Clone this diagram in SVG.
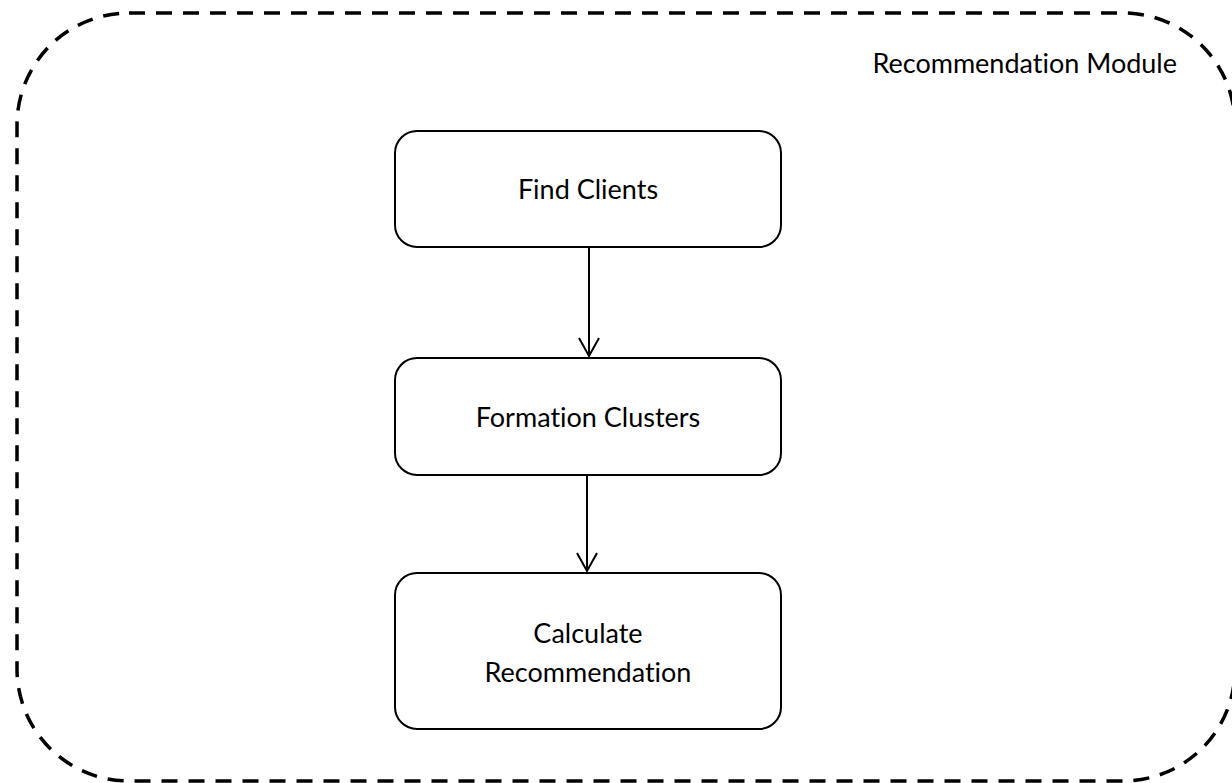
<svg xmlns="http://www.w3.org/2000/svg" width="1232" height="783" viewBox="0 0 1232 783">
  <defs>
    <style>
      .frame { fill: none; stroke: #000; stroke-width: 3.5; stroke-dasharray: 16 11; }
      .node rect { fill: #fff; stroke: #000; stroke-width: 2; }
      .label { font-family: Lato, "Open Sans", sans-serif; font-size: 27px; fill: #000; font-variant-ligatures: none; font-feature-settings: "liga" 0, "clig" 0; }
      .node text { text-anchor: middle; }
      .edge { fill: none; stroke: #000; stroke-width: 2; }
    </style>
    <!-- open V arrowhead, tip at the path end -->
    <marker id="arrow" markerWidth="24" markerHeight="24" viewBox="-20 -12 24 24" refX="0" refY="0" markerUnits="userSpaceOnUse" orient="auto">
      <path d="M -18 -10 L 0 0 L -18 10" fill="none" stroke="#000" stroke-width="2"/>
    </marker>
  </defs>

  <rect width="1232" height="783" fill="#fff"/>

  <!-- module boundary -->
  <g id="module">
    <rect class="frame" x="17" y="13" width="1218" height="768" rx="112" ry="112"/>
    <text class="label" x="1177" y="73" text-anchor="end">Recommendation Module</text>
  </g>

  <!-- process steps -->
  <g id="find-clients" class="node">
    <rect x="395" y="131" width="386" height="116" rx="22" ry="22"/>
    <text class="label" x="588" y="199">Find Clients</text>
  </g>

  <g id="formation-clusters" class="node">
    <rect x="395" y="358" width="386" height="117" rx="22" ry="22"/>
    <text class="label" x="588" y="427">Formation Clusters</text>
  </g>

  <g id="calculate-recommendation" class="node">
    <rect x="395" y="573" width="386" height="156" rx="22" ry="22"/>
    <text class="label" x="588" y="643">Calculate</text>
    <text class="label" x="588" y="682">Recommendation</text>
  </g>

  <!-- connectors -->
  <g id="connectors">
    <path class="edge" d="M 589 248 L 589 356" marker-end="url(#arrow)"/>
    <path class="edge" d="M 587 476 L 587 571" marker-end="url(#arrow)"/>
  </g>
</svg>
